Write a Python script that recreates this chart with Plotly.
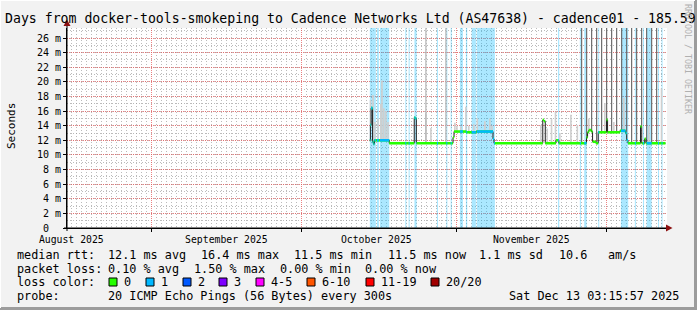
import numpy as np
import pandas as pd
import plotly.graph_objects as go

# ---------------- data ----------------
x_start = "2025-08-15 03:15:57"
x_end = "2025-12-13 03:15:57"
y_top_ms = 27.37

month_label_dates = ["2025-08-16", "2025-09-16", "2025-10-16", "2025-11-16"]
month_labels = ["August 2025", "September 2025", "October 2025", "November 2025"]

y_tick_vals = [0, 2, 4, 6, 8, 10, 12, 14, 16, 18, 20, 22, 24, 26]
y_tick_text = ["0\u00a0\u00a0", "2 m", "4 m", "6 m", "8 m", "10 m", "12 m", "14 m",
               "16 m", "18 m", "20 m", "22 m", "24 m", "26 m"]

# median rtt (step series, ms)
median_time = [
    "2025-10-14 17:00", "2025-10-14 19:30", "2025-10-14 23:00", "2025-10-15 06:00",
    "2025-10-15 10:00", "2025-10-15 15:00", "2025-10-18 14:00", "2025-10-23 14:00",
    "2025-10-23 19:00", "2025-10-24 00:00", "2025-10-31 08:00", "2025-10-31 13:00",
    "2025-11-03 00:00", "2025-11-05 00:00", "2025-11-08 08:00", "2025-11-08 13:00",
    "2025-11-18 07:00", "2025-11-18 13:00", "2025-11-18 19:00", "2025-11-20 22:00",
    "2025-11-21 12:00", "2025-11-27 01:00", "2025-11-27 06:00", "2025-11-27 12:00",
    "2025-11-28 00:00", "2025-11-28 06:00", "2025-11-28 22:00", "2025-11-29 09:00",
    "2025-12-01 01:00", "2025-12-01 06:00", "2025-12-03 17:00", "2025-12-04 20:00",
    "2025-12-05 02:00", "2025-12-05 08:00", "2025-12-07 20:00", "2025-12-08 02:00",
    "2025-12-08 16:00", "2025-12-08 22:00", "2025-12-12 20:00",
]
median_ms = [
    12.0, 14.1, 16.4, 11.8,
    11.5, 12.0, 11.6, 15.1,
    15.0, 11.6, 12.4, 13.2,
    13.1, 13.2, 12.2, 11.6,
    14.8, 14.6, 11.6, 12.0,
    11.6, 12.4, 13.1, 13.4,
    13.2, 11.8, 11.6, 13.1,
    14.8, 13.1, 13.3, 13.0,
    12.0, 11.6, 13.9, 11.6,
    12.2, 11.6, 11.6,
]

# periods with packet loss (1/20)
loss_band_start = [
    "2025-10-14 17:00", "2025-10-16 03:00", "2025-10-16 17:20", "2025-10-21 19:00",
    "2025-10-22 11:00", "2025-10-23 15:00", "2025-10-28 03:00", "2025-10-30 00:00",
    "2025-10-30 21:00", "2025-11-01 17:20", "2025-11-02 22:00", "2025-11-04 01:25",
    "2025-11-05 01:55", "2025-11-21 08:00", "2025-11-25 17:00", "2025-11-26 14:00",
    "2025-11-29 09:00", "2025-12-03 22:00", "2025-12-06 17:00", "2025-12-08 08:00",
    "2025-12-09 01:25", "2025-12-11 08:00", "2025-12-12 01:00",
]
loss_band_end = [
    "2025-10-15 22:00", "2025-10-16 12:30", "2025-10-18 14:00", "2025-10-22 00:00",
    "2025-10-22 16:00", "2025-10-24 01:30", "2025-10-28 08:00", "2025-10-30 05:00",
    "2025-10-31 02:00", "2025-11-02 07:40", "2025-11-03 04:20", "2025-11-04 22:00",
    "2025-11-08 17:20", "2025-11-21 14:00", "2025-11-25 22:00", "2025-11-27 01:25",
    "2025-11-29 14:00", "2025-12-05 09:00", "2025-12-06 22:00", "2025-12-08 13:00",
    "2025-12-10 01:25", "2025-12-11 13:00", "2025-12-12 06:00",
]

# smoke (highest ping of each interval, ms)
smoke_time = [
    "2025-10-14 20:00", "2025-10-15 08:00", "2025-10-15 17:00", "2025-10-16 08:00",
    "2025-10-16 22:00", "2025-10-17 03:00", "2025-10-17 12:00", "2025-10-17 22:00",
    "2025-10-18 08:00", "2025-10-25 22:00", "2025-10-26 22:00", "2025-10-31 17:00",
    "2025-11-01 03:00", "2025-11-01 22:00", "2025-11-02 22:00", "2025-11-03 12:00",
    "2025-11-04 12:00", "2025-11-05 05:00", "2025-11-06 17:00", "2025-11-07 17:00",
    "2025-11-08 03:00", "2025-11-17 22:00", "2025-11-19 04:00", "2025-11-20 01:00",
    "2025-11-20 20:00", "2025-11-21 17:00", "2025-11-23 22:00", "2025-11-25 05:00",
    "2025-11-27 12:00", "2025-11-30 17:00", "2025-12-02 12:00", "2025-12-04 12:00",
    "2025-12-09 12:00", "2025-12-12 01:00",
]
smoke_top_ms = [
    17.5, 18.2, 14.5, 15.0,
    17.0, 20.2, 16.4, 16.0,
    14.5, 15.7, 13.7, 14.4,
    14.0, 13.9, 16.6, 14.0,
    14.2, 15.0, 14.6, 15.0,
    14.0, 14.1, 13.6, 14.9,
    15.9, 13.0, 15.5, 14.1,
    15.0, 17.1, 14.5, 17.8,
    14.0, 19.1,
]

# intervals whose slowest pings went far off the scale
offscale_light_time = ["2025-10-25 22:00", "2025-10-29 22:00"]
offscale_dark_time = [
    "2025-11-26 01:30", "2025-11-27 01:30", "2025-11-28 01:30", "2025-11-29 01:30",
    "2025-11-30 01:30", "2025-12-01 01:30", "2025-12-02 01:30", "2025-12-03 01:30",
    "2025-12-04 01:30", "2025-12-05 01:30", "2025-12-06 01:30", "2025-12-07 01:30",
    "2025-12-08 01:30", "2025-12-09 01:30", "2025-12-10 01:30", "2025-12-11 01:30",
]
offscale_peak_ms = 80.0

# legend
title_text = "Days from docker-tools-smokeping to Cadence Networks Ltd (AS47638) - cadence01 - 185.59"
rtt_items = ["median rtt:", "12.1 ms avg", "16.4 ms max", "11.5 ms min", "11.5 ms now",
             "1.1 ms sd", "10.6", "am/s"]
loss_items = ["packet loss:", "0.10 % avg", "1.50 % max", "0.00 % min", "0.00 % now"]
loss_color_labels = ["0", "1", "2", "3", "4-5", "6-10", "11-19", "20/20"]
loss_colors = ["#26ff00", "#00b8ff", "#0059ff", "#7e00ff", "#ff00ff", "#ff5500", "#ff0000", "#a10000"]
probe_items = ["probe:", "20 ICMP Echo Pings (56 Bytes) every 300s"]
stamp_text = "Sat Dec 13 03:15:57 2025"
watermark = "RRDTOOL / TOBI OETIKER"

# ---------------- layout helpers (pixel -> paper) ----------------
PL, PR, PT, PB = 67, 667, 28, 228
W, H = 697, 310


def px(x):
    return (x - PL) / (PR - PL)


def py(y):
    return (PB - y) / (PB - PT)


MONO = "DejaVu Sans Mono"

# ---------------- derived series ----------------
med_t = pd.to_datetime(median_time)
med_v = np.array(median_ms)


def med_at(t):
    i = np.searchsorted(med_t.values, np.datetime64(pd.Timestamp(t)), side="right") - 1
    i = min(max(i, 0), len(med_v) - 1)
    return med_v[i]


fig = go.Figure()

# loss background bands
bx, by = [], []
for s, e in zip(loss_band_start, loss_band_end):
    bx += [s, s, e, e, s, None]
    by += [0, y_top_ms, y_top_ms, 0, 0, None]
fig.add_trace(go.Scatter(x=bx, y=by, mode="lines", fill="toself",
                         fillcolor="rgba(0,184,255,0.33)", line=dict(width=0),
                         hoverinfo="skip", showlegend=False))

# smoke
sx, sy = [], []
for t, top in zip(smoke_time, smoke_top_ms):
    sx += [t, t, None]
    sy += [med_at(t), top, None]
fig.add_trace(go.Scatter(x=sx, y=sy, mode="lines", line=dict(color="#cfcfcf", width=1.6),
                         hoverinfo="skip", showlegend=False))

for times, col in ((offscale_light_time, "#b4b4b4"), (offscale_dark_time, "#6e6e6e")):
    ox, oy = [], []
    for t in times:
        ox += [t, t, None]
        oy += [med_at(t), offscale_peak_ms, None]
    fig.add_trace(go.Scatter(x=ox, y=oy, mode="lines", line=dict(color=col, width=1.2),
                             hoverinfo="skip", showlegend=False))

# median thin dark line
fig.add_trace(go.Scatter(x=median_time, y=median_ms, mode="lines",
                         line=dict(color="#202020", width=1, shape="hv"),
                         hoverinfo="skip", showlegend=False))

# coloured median segments (loss 0 = green, loss 1 = blue)
gx, gy = [], []
for i in range(len(med_t) - 1):
    gx += [med_t[i], med_t[i + 1], None]
    gy += [med_v[i], med_v[i], None]
fig.add_trace(go.Scatter(x=gx, y=gy, mode="lines", line=dict(color="#26ff00", width=2.6),
                         hoverinfo="skip", showlegend=False))

lx, ly = [], []
for s, e in zip(pd.to_datetime(loss_band_start), pd.to_datetime(loss_band_end)):
    for i in range(len(med_t) - 1):
        a = max(s, med_t[i])
        b = min(e, med_t[i + 1])
        if b > a:
            lx += [a, b, None]
            ly += [med_v[i], med_v[i], None]
fig.add_trace(go.Scatter(x=lx, y=ly, mode="lines", line=dict(color="#00b8ff", width=2.6),
                         hoverinfo="skip", showlegend=False))

# ---------------- axes ----------------
major_grid = "rgba(230,90,90,0.75)"
minor_grid = "rgba(150,150,150,0.65)"

fig.update_layout(
    width=W, height=H,
    margin=dict(l=PL, r=W - PR, t=PT, b=H - PB, pad=0),
    paper_bgcolor="#f2f2f2", plot_bgcolor="#ffffff",
    showlegend=False,
    xaxis=dict(
        type="date", range=[x_start, x_end],
        tickmode="linear", tick0="2025-08-01", dtick="M1",
        showticklabels=False, ticks="outside", ticklen=3, tickcolor="#000000",
        showgrid=True, gridcolor=major_grid, griddash="1px,1px", gridwidth=1,
        minor=dict(dtick=86400000, tick0="2025-08-01", showgrid=True,
                   gridcolor=minor_grid, griddash="1px,2px", gridwidth=1),
        showline=True, linecolor="#000000", linewidth=1,
        zeroline=False, fixedrange=True,
    ),
    xaxis2=dict(
        type="date", range=[x_start, x_end], overlaying="x", anchor="y", side="bottom",
        tickmode="array", tickvals=month_label_dates, ticktext=month_labels,
        showgrid=False, ticks="", showline=False, zeroline=False,
        ticklabelstandoff=4,
        tickfont=dict(family=MONO, size=9.8, color="#000000"),
    ),
    yaxis=dict(
        range=[0, y_top_ms], tickmode="array", tickvals=y_tick_vals, ticktext=y_tick_text,
        tickfont=dict(family=MONO, size=10, color="#000000"),
        ticks="outside", ticklen=3, tickcolor="#000000",
        showgrid=True, gridcolor=major_grid, griddash="1px,1px", gridwidth=1,
        minor=dict(dtick=1, showgrid=True, gridcolor=minor_grid, griddash="1px,2px", gridwidth=1),
        showline=True, linecolor="#000000", linewidth=1,
        zeroline=False, fixedrange=True,
    ),
)
# dummy so xaxis2 is rendered
fig.add_trace(go.Scatter(x=[month_label_dates[0]], y=[None], xaxis="x2", yaxis="y",
                         mode="markers", hoverinfo="skip", showlegend=False))

# ---------------- decorations ----------------
shapes = []
# axis extensions and arrows
shapes.append(dict(type="line", xref="paper", yref="paper", x0=px(67), x1=px(67),
                   y0=py(231), y1=py(24), line=dict(color="#000000", width=1)))
shapes.append(dict(type="line", xref="paper", yref="paper", x0=px(64), x1=px(668),
                   y0=py(228), y1=py(228), line=dict(color="#000000", width=1)))
shapes.append(dict(type="path", xref="paper", yref="paper",
                   path=f"M {px(63.5)} {py(26)} L {px(70.5)} {py(26)} L {px(67)} {py(19.5)} Z",
                   fillcolor="#8b1010", line=dict(width=0)))
shapes.append(dict(type="path", xref="paper", yref="paper",
                   path=f"M {px(666)} {py(224.5)} L {px(666)} {py(231.5)} L {px(672.5)} {py(228)} Z",
                   fillcolor="#8b1010", line=dict(width=0)))
# frame
shapes.append(dict(type="line", xref="paper", yref="paper", x0=px(0), x1=px(697),
                   y0=py(308.5), y1=py(308.5), line=dict(color="#9c9c9c", width=3)))
shapes.append(dict(type="line", xref="paper", yref="paper", x0=px(695.5), x1=px(695.5),
                   y0=py(0), y1=py(310), line=dict(color="#9c9c9c", width=3)))
shapes.append(dict(type="line", xref="paper", yref="paper", x0=px(0), x1=px(695),
                   y0=py(0.5), y1=py(0.5), line=dict(color="#ffffff", width=1)))
shapes.append(dict(type="line", xref="paper", yref="paper", x0=px(0.5), x1=px(0.5),
                   y0=py(0), y1=py(308), line=dict(color="#ffffff", width=1)))

annotations = []


def txt(text, x, y, size=11.8, color="#000000", xanchor="left", angle=0):
    annotations.append(dict(text=text, x=px(x), y=py(y), xref="paper", yref="paper",
                            xanchor=xanchor, yanchor="middle", showarrow=False,
                            textangle=angle,
                            font=dict(family=MONO, size=size, color=color)))


txt(title_text, 3, 18.5, size=13.2)
txt("Seconds", 11, 126, size=11, xanchor="center", angle=-90)
txt(watermark, 688, 59, size=8.3, color="#b0b0b0", xanchor="center", angle=90)

rtt_x = [15, 106, 199, 292, 386, 477, 557, 606]
for t, x in zip(rtt_items, rtt_x):
    txt(t, x, 255)
loss_x = [15, 106, 192, 278, 363]
for t, x in zip(loss_items, loss_x):
    txt(t, x, 268.5)
txt("loss color:", 15, 282)
box_x = [109, 146, 183, 219, 256, 307, 366, 431]
for lab, col, bxp in zip(loss_color_labels, loss_colors, box_x):
    shapes.append(dict(type="rect", xref="paper", yref="paper", x0=px(bxp), x1=px(bxp + 8),
                       y0=py(286), y1=py(278), fillcolor=col,
                       line=dict(color="#000000", width=1)))
    txt(lab, bxp + 13, 282)
txt(probe_items[0], 15, 296)
txt(probe_items[1], 106, 296)
txt(stamp_text, 681, 296, xanchor="right")

fig.update_layout(shapes=shapes, annotations=annotations)
fig.write_html("out.html")
